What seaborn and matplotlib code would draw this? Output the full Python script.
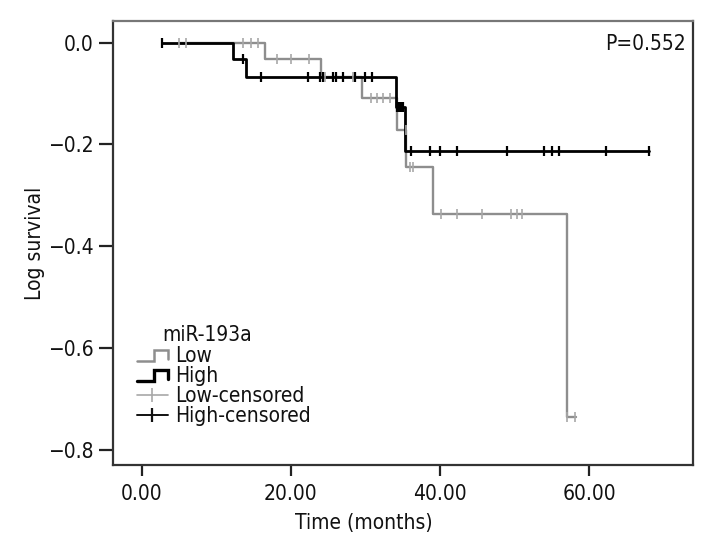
import numpy as np
import pandas as pd
import matplotlib
matplotlib.use("Agg")
import matplotlib.pyplot as plt
from matplotlib.lines import Line2D
from matplotlib.legend_handler import HandlerBase
from matplotlib import font_manager
import seaborn as sns

# ---------------- data ----------------
low_times = [5.05, 16.5, 24.05, 29.6, 34.2, 35.5, 39.1, 57.0, 58.2]
low_logsurv = [0.0, -0.032, -0.068, -0.108, -0.172, -0.245, -0.337, -0.736, -0.736]
low_censored = [5.05, 5.94, 13.6, 14.6, 15.6, 18.2, 20.0, 22.4, 24.6, 28.3,
                30.7, 31.6, 32.4, 33.3, 35.45, 36.0, 36.4, 40.2, 42.3, 45.6,
                49.5, 50.3, 51.05, 57.1, 58.1]

high_times = [2.68, 12.2, 13.95, 34.07, 35.3, 68.05]
high_logsurv = [0.0, -0.032, -0.068, -0.127, -0.212, -0.212]
high_censored = [2.68, 13.6, 15.96, 22.3, 23.9, 24.3, 25.7, 26.0, 27.0, 28.6,
                 29.95, 30.85, 34.2, 34.5, 34.8, 35.0, 36.1, 38.7, 40.0, 42.3,
                 49.0, 54.0, 55.0, 56.0, 62.3, 68.05]

x_ticks = [0, 20, 40, 60]
x_ticklabels = ["0.00", "20.00", "40.00", "60.00"]
y_ticks = [0.0, -0.2, -0.4, -0.6, -0.8]
y_ticklabels = ["0.0", "\u22120.2", "\u22120.4", "\u22120.6", "\u22120.8"]
legend_title = "miR-193a"
legend_labels = ["Low", "High", "Low-censored", "High-censored"]
p_text = "P=0.552"

# ---------------- style ----------------
sns.set_style("white")
names = {f.name for f in font_manager.fontManager.ttflist}
fam = [f for f in ["Liberation Sans Narrow", "DejaVu Sans"] if f in names]
plt.rcParams["font.family"] = fam
plt.rcParams["font.stretch"] = "condensed"
FS = 15

GRAY = "#8e8e8e"
GRAY_C = "#a8a8a8"
BLACK = "#000000"


def step_value(times, vals, t):
    idx = np.searchsorted(np.asarray(times), t, side="right") - 1
    idx = max(idx, 0)
    return vals[idx]


low_df = pd.DataFrame({"t": low_times, "s": low_logsurv})
high_df = pd.DataFrame({"t": high_times, "s": high_logsurv})
low_c_df = pd.DataFrame({"t": low_censored,
                         "s": [step_value(low_times, low_logsurv, t) for t in low_censored]})
high_c_df = pd.DataFrame({"t": high_censored,
                          "s": [step_value(high_times, high_logsurv, t) for t in high_censored]})

fig = plt.figure(figsize=(7.2, 5.52), dpi=100)
ax = fig.add_axes([0.1565, 0.1576, 0.8056, 0.8049])

sns.lineplot(data=low_df, x="t", y="s", ax=ax, color=GRAY, lw=1.7,
             drawstyle="steps-post", estimator=None, sort=False)
sns.lineplot(data=high_df, x="t", y="s", ax=ax, color=BLACK, lw=2.0,
             drawstyle="steps-post", estimator=None, sort=False)
sns.scatterplot(data=low_c_df, x="t", y="s", ax=ax, marker="|", s=60,
                color=GRAY_C, linewidth=1.2, zorder=3)
sns.scatterplot(data=high_c_df, x="t", y="s", ax=ax, marker="|", s=60,
                color=BLACK, linewidth=1.6, zorder=4)

ax.set_xlim(-3.89, 73.9)
ax.set_ylim(-0.830, 0.0432)
ax.set_xticks(x_ticks)
ax.set_xticklabels(x_ticklabels)
ax.set_yticks(y_ticks)
ax.set_yticklabels(y_ticklabels)
ax.set_xlabel("")
ax.set_ylabel("")
ax.tick_params(axis="both", labelsize=FS, direction="out", width=1.6,
               color="#222222", labelcolor="#111111", left=True, bottom=True)
ax.tick_params(axis="x", length=8, pad=6)
ax.tick_params(axis="y", length=10, pad=4)
for sp in ax.spines.values():
    sp.set_visible(True)
    sp.set_linewidth(1.6)
    sp.set_color("#333333")
ax.spines["top"].set_color("#777777")

W, H = 720.0, 552.0
fig.text(364 / W, 1 - 523 / H, "Time (months)", ha="center", va="center",
         fontsize=FS, color="#111111")
fig.text(35 / W, 1 - 243 / H, "Log survival", ha="center", va="center",
         rotation=90, fontsize=FS, color="#111111")
fig.text(686 / W, 1 - 44 / H, p_text, ha="right", va="center",
         fontsize=FS, color="#111111")


class StepHandler(HandlerBase):
    def create_artists(self, legend, orig_handle, xdescent, ydescent,
                       width, height, fontsize, trans):
        x0, y0 = -xdescent, -ydescent
        xs = [x0, x0 + 0.55 * width, x0 + 0.55 * width, x0 + width, x0 + width]
        ys = [y0 + 0.1 * height, y0 + 0.1 * height, y0 + 0.85 * height,
              y0 + 0.85 * height, y0 + 0.2 * height]
        ln = Line2D(xs, ys, color=orig_handle.get_color(),
                    lw=orig_handle.get_linewidth(), solid_joinstyle="miter")
        ln.set_transform(trans)
        return [ln]


h_low = Line2D([], [], color=GRAY, lw=1.8)
h_high = Line2D([], [], color=BLACK, lw=2.4)
h_lowc = Line2D([], [], color=GRAY_C, lw=1.2, marker="|", markersize=10,
                markeredgewidth=1.2)
h_highc = Line2D([], [], color="#111111", lw=1.4, marker="|", markersize=10,
                 markeredgewidth=1.6)

leg = ax.legend([h_low, h_high, h_lowc, h_highc], legend_labels,
                handler_map={h_low: StepHandler(), h_high: StepHandler()},
                loc="upper left", bbox_to_anchor=(136.7 / W, 1 - 346 / H),
                bbox_transform=fig.transFigure, frameon=False,
                fontsize=FS, handlelength=1.5, handletextpad=0.36,
                borderpad=0, borderaxespad=0, labelspacing=0.0)
for t in leg.get_texts():
    t.set_color("#111111")
fig.text(162 / W, 1 - 335 / H, legend_title, ha="left", va="center",
         fontsize=FS, color="#111111")

fig.savefig("out.png", dpi=100)
print(fam)
